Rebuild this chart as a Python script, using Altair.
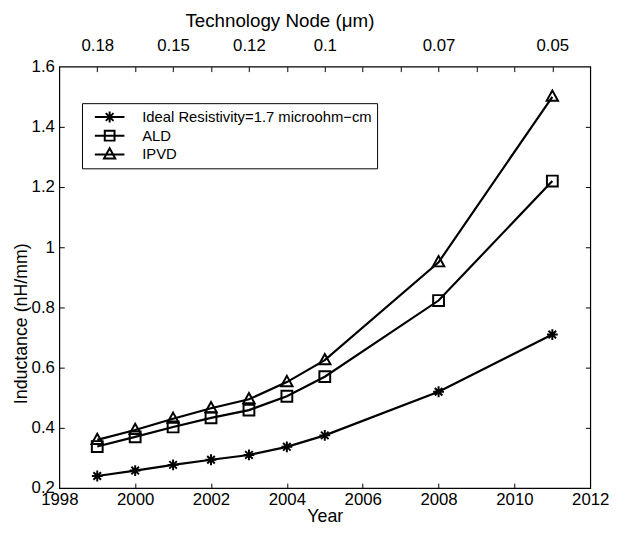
import altair as alt
import pandas as pd

# ---- data ----
years = [1999, 2000, 2001, 2002, 2003, 2004, 2005, 2008, 2011]
series_names = ["Ideal Resistivity=1.7 microohm\u2212cm", "ALD", "IPVD"]
ideal = [0.24, 0.258, 0.277, 0.294, 0.31, 0.337, 0.375, 0.52, 0.71]
ald = [0.338, 0.37, 0.403, 0.433, 0.459, 0.505, 0.57, 0.823, 1.22]
ipvd = [0.36, 0.393, 0.43, 0.465, 0.495, 0.552, 0.625, 0.95, 1.50]

node_years = [1999, 2001, 2003, 2005, 2008, 2011]
node_labels = ["0.18", "0.15", "0.12", "0.1", "0.07", "0.05"]

year_ticks = [1998, 2000, 2002, 2004, 2006, 2008, 2010, 2012]
bottom_minor_ticks = [2000, 2002, 2004, 2006, 2008, 2010]
top_minor_ticks = [1999, 2000, 2001, 2002, 2003, 2004, 2005, 2006, 2007, 2008, 2009, 2010, 2011]
inductance_ticks = [0.2, 0.4, 0.6, 0.8, 1.0, 1.2, 1.4, 1.6]
inner_inductance_ticks = [0.4, 0.6, 0.8, 1.0, 1.2, 1.4]

rows = []
for name, vals in zip(series_names, [ideal, ald, ipvd]):
    for yr, v in zip(years, vals):
        rows.append({"year": yr, "inductance": v, "series": name})
df = pd.DataFrame(rows)

# ---- styling ----
W, H = 538, 427
FONT = "Liberation Sans"

asterisk = "M-1,0L1,0M0,-1L0,1M-0.7,-0.7L0.7,0.7M-0.7,0.7L0.7,-0.7"
square = "M-1,-1L1,-1L1,1L-1,1Z"
triangle = "M0,-1.15L1.05,0.75L-1.05,0.75Z"

asterisk_l = "M-1,0L1,0M0,-0.37L0,0.37M-0.26,-0.26L0.26,0.26M-0.26,0.26L0.26,-0.26"
square_l = "M-1,0L1,0M-0.33,-0.33L0.33,-0.33L0.33,0.33L-0.33,0.33Z"
triangle_l = "M-1,0L1,0M0,-0.42L0.38,0.27L-0.38,0.27Z"

x_scale = alt.Scale(domain=[1998, 2012], nice=False, zero=False)
y_scale = alt.Scale(domain=[0.2, 1.6], nice=False, zero=False)

node_expr = ""
for yr, lab in zip(node_years, node_labels):
    node_expr += f"datum.value == {yr} ? '{lab}' : "
node_expr += "''"

base = alt.Chart(df)

# inward tick marks (axes moved to the opposite side with negative offsets)
ticks_c = base.mark_point(opacity=0).encode(
    x=alt.X("year:Q", scale=x_scale, axis=alt.Axis(
        orient="top", offset=-H, values=bottom_minor_ticks, labels=False,
        domain=False, tickSize=5, tickWidth=1, title=None, grid=False)),
    y=alt.Y("inductance:Q", scale=y_scale, axis=alt.Axis(
        orient="right", offset=-W, values=inner_inductance_ticks, labels=False,
        domain=False, tickSize=5, tickWidth=1, title=None, grid=False)),
)
ticks_d = base.mark_point(opacity=0).encode(
    x=alt.X("year:Q", scale=x_scale, axis=alt.Axis(
        orient="bottom", offset=-H, values=top_minor_ticks, labels=False,
        domain=False, tickSize=5, tickWidth=1, title=None, grid=False)),
    y=alt.Y("inductance:Q", scale=y_scale, axis=alt.Axis(
        orient="left", offset=-W, values=inner_inductance_ticks, labels=False,
        domain=False, tickSize=5, tickWidth=1, title=None, grid=False)),
)

lines = base.mark_line(color="black", strokeWidth=2.2).encode(
    x=alt.X("year:Q", scale=x_scale, axis=alt.Axis(
        orient="bottom", values=year_ticks, format="d", title="Year",
        ticks=False, domain=False, grid=False, labelPadding=4,
        labelFontSize=17, titleFontSize=18, titlePadding=0,
        labelFlush=False, labelOverlap=False)),
    y=alt.Y("inductance:Q", scale=y_scale, axis=alt.Axis(
        orient="left", values=inductance_ticks, format=".1~f",
        title="Inductance (nH/mm)", ticks=False, domain=False, grid=False,
        labelPadding=5, labelFontSize=17, titleFontSize=18,
        titleX=-38, titleY=260, titleAngle=270, titleAlign="center",
        titleBaseline="middle", labelFlush=False, labelOverlap=False)),
    detail="series:N",
)

points = base.mark_point(color="black", filled=False, strokeWidth=2, size=120, opacity=1).encode(
    x=alt.X("year:Q", scale=x_scale, axis=alt.Axis(
        orient="top", values=node_years, labelExpr=node_expr,
        title="Technology Node (\u03bcm)", ticks=False, domain=False, grid=False,
        labelPadding=12, labelFontSize=17, titleFontSize=19,
        titleX=223, titleY=-47, titleAlign="center", titleBaseline="middle",
        labelFlush=False, labelOverlap=False)),
    y=alt.Y("inductance:Q", scale=y_scale, axis=None),
    shape=alt.Shape("series:N", scale=alt.Scale(domain=series_names, range=[asterisk, square, triangle]),
                    legend=None),
)

legend_layer = base.transform_filter("false").mark_point(
    color="black", filled=False, strokeWidth=2, opacity=1).encode(
    x=alt.X("year:Q", scale=x_scale, axis=None),
    y=alt.Y("inductance:Q", scale=y_scale, axis=None),
    shape=alt.Shape("series:N",
                    scale=alt.Scale(domain=series_names, range=[asterisk_l, square_l, triangle_l]),
                    legend=alt.Legend(
                        title=None, orient="none", legendX=23, legendY=37,
                        strokeColor="black", fillColor="white", padding=5,
                        symbolOffset=7, labelOffset=17, symbolSize=900,
                        symbolStrokeWidth=2, symbolStrokeColor="black",
                        symbolOpacity=1, clipHeight=18, rowPadding=1,
                        labelFontSize=15, labelColor="black", labelFont=FONT,
                        labelLimit=400)),
)

chart = alt.layer(ticks_c, ticks_d, lines, points, legend_layer).resolve_axis(
    x="independent", y="independent"
).resolve_scale(shape="independent").properties(
    width=W, height=H,
    padding={"left": 52, "top": 56, "right": 20, "bottom": 35},
    autosize=alt.AutoSizeParams(type="none"),
    background="white",
).configure_view(
    stroke="black", strokeWidth=1.2
).configure_axis(
    labelFont=FONT, titleFont=FONT, labelColor="black", titleColor="black",
    tickColor="black", titleFontWeight="normal"
)

chart.save("out.html", embed_options={"renderer": "svg", "actions": False})
